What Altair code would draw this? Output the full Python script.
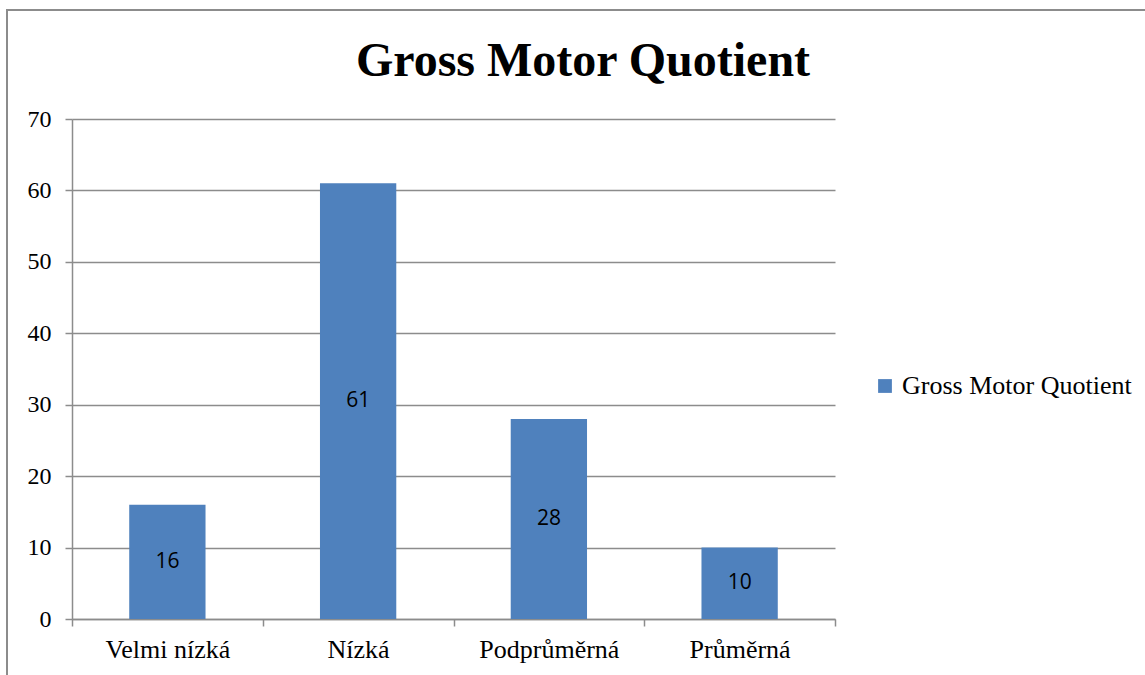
import altair as alt
import pandas as pd

categories = ["Velmi nízká", "Nízká", "Podprůměrná", "Průměrná"]
values = [16, 61, 28, 10]
series_name = "Gross Motor Quotient"
y_ticks = [0, 10, 20, 30, 40, 50, 60, 70]

df = pd.DataFrame({"kategorie": categories, "hodnota": values, "serie": [series_name] * len(categories)})

SERIF = "Liberation Serif"
SANS = "Open Sans"
GRAY = "#8c8c8c"
BLUE = "#4F81BD"

x_enc = alt.X("kategorie:N", sort=categories,
              scale=alt.Scale(paddingInner=0, paddingOuter=0),
              axis=alt.Axis(title=None, labelAngle=0, tickBand="extent", grid=False,
                            labelFont=SERIF, labelFontSize=26, labelPadding=10, labelColor="black"))
y_enc = alt.Y("hodnota:Q", scale=alt.Scale(domain=[0, 70], nice=False),
              axis=alt.Axis(title=None, values=y_ticks, grid=True,
                            labelFont=SERIF, labelFontSize=24, labelPadding=14, labelColor="black"))

bars = alt.Chart(df).mark_bar(width=alt.RelativeBandSize(0.4), color=BLUE).encode(
    x=x_enc,
    y=y_enc,
    color=alt.Color("serie:N", scale=alt.Scale(range=[BLUE]),
                    legend=alt.Legend(title=None, orient="none", legendX=800, legendY=254,
                                      symbolType="square", symbolSize=190, symbolStrokeWidth=0,
                                      labelOffset=4, labelFont=SERIF, labelFontSize=26,
                                      labelColor="black", labelLimit=400)),
)

labels = alt.Chart(df).mark_text(font=SANS, fontSize=21, color="black", baseline="middle").encode(
    x=alt.X("kategorie:N", sort=categories, title=None),
    y=alt.Y("mid:Q", title=None),
    text=alt.Text("hodnota:Q"),
).transform_calculate(mid="datum.hodnota / 2")

title = alt.Chart(pd.DataFrame({"t": [series_name]})).mark_text(
    font=SERIF, fontSize=48, fontWeight="bold", color="black", baseline="alphabetic", align="center"
).encode(x=alt.value(511), y=alt.value(-43), text="t:N")

frame = alt.Chart(pd.DataFrame({"a": [0]})).mark_rect(
    fill=None, stroke=GRAY, strokeWidth=2, clip=False
).encode(x=alt.value(-65), x2=alt.value(1200), y=alt.value(-109), y2=alt.value(700))

chart = alt.layer(frame, bars, labels, title).properties(
    width=763, height=500,
    background="white",
    autosize=alt.AutoSizeParams(type="none"),
    padding={"left": 72, "top": 119, "right": 310, "bottom": 56},
).configure_view(stroke=None).configure_axis(
    labelFont=SERIF, labelColor="black", tickColor=GRAY, tickWidth=1.5, tickSize=7,
    domainColor=GRAY, domainWidth=1.5, gridColor=GRAY, gridWidth=1.5,
)

chart.save("out.html", embed_options={"renderer": "svg", "actions": False})
